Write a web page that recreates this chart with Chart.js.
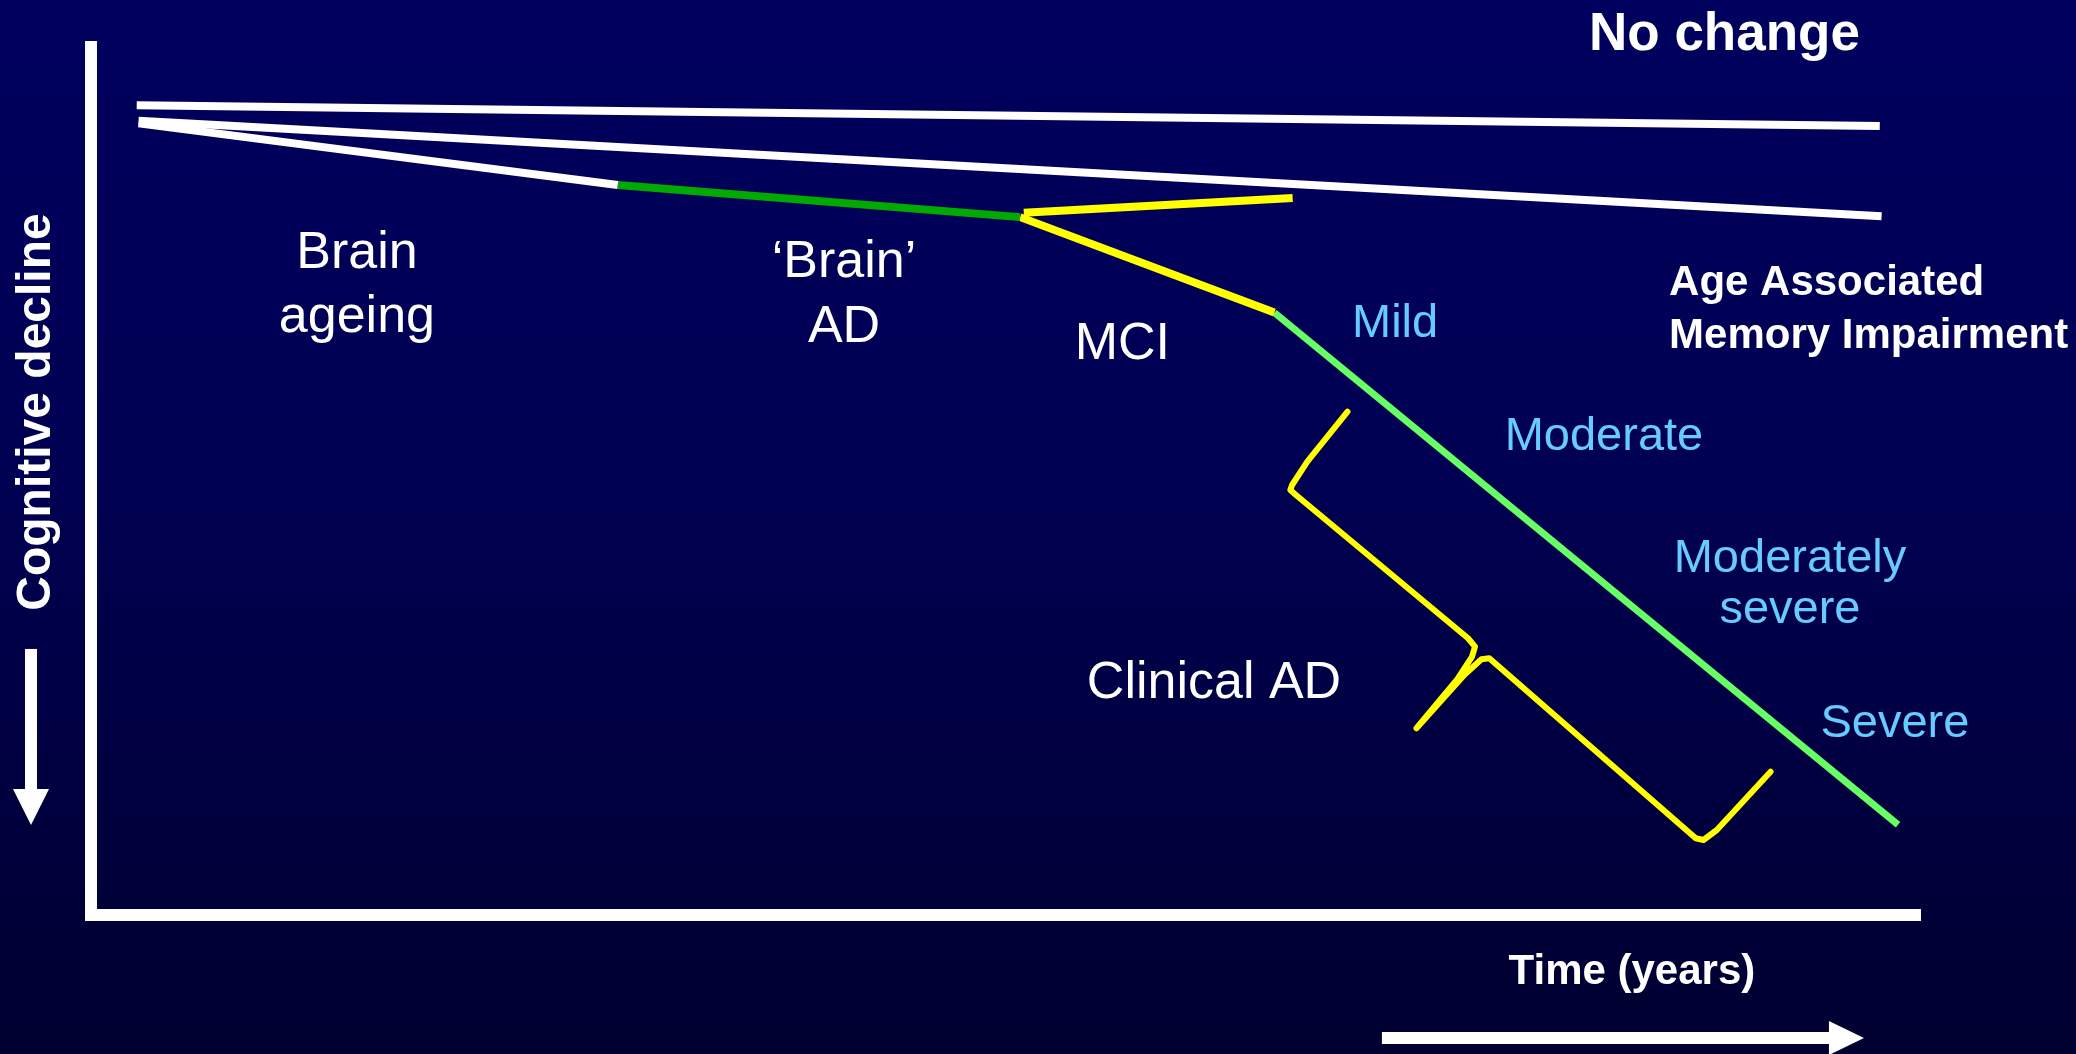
<!DOCTYPE html>
<html>
<head>
<meta charset="utf-8">
<title>Cognitive decline over time</title>
<script src="https://cdn.jsdelivr.net/npm/chart.js@4/dist/chart.umd.min.js"></script>
<style>
  html, body { margin: 0; padding: 0; background: #000040; overflow: hidden; }
  canvas { display: block; }
</style>
</head>
<body>
<canvas id="chart" width="2076" height="1054"></canvas>
<script>
// ---- Trajectories (time on x, cognitive level on y; 0–100 arbitrary units) ----
const timeNoChange   = [2.5, 97.8];
const cogNoChange    = [93.3, 90.9];

const timeAAMI       = [2.6, 97.9];
const cogAAMI        = [91.5, 80.5];

const timeAgeing     = [2.6, 28.8];
const cogAgeing      = [91.2, 84.1];

const timeBrainAD    = [28.8, 50.8];
const cogBrainAD     = [84.1, 80.4];

const timeMCIStable  = [51.0, 65.7];
const cogMCIStable   = [80.9, 82.6];

const timeMCI        = [50.8, 64.7];
const cogMCI         = [80.4, 69.4];

const timeClinical   = [64.7, 98.8];
const cogClinical    = [69.4, 10.4];

// curly brace spanning the clinical AD stage
const timeBrace = [68.70, 66.50, 65.67, 65.57, 65.88, 75.29, 75.67, 75.51, 74.67, 72.47,
                   75.08, 76.02, 76.45, 87.74, 88.16, 88.89, 91.83];
const cogBrace  = [57.98, 52.22, 49.54, 48.96, 48.39, 31.88, 30.91, 29.76, 27.07, 21.51,
                   27.65, 29.46, 29.57, 8.84, 8.64, 9.79, 16.51];

// ---- Text ----
const stageLabels    = ['Brain\nageing', '\u2018Brain\u2019\nAD', 'MCI', 'Clinical AD'];
const severityLabels = ['Mild', 'Moderate', 'Moderately\nsevere', 'Severe'];
const outcomeLabels  = ['No change', 'Age Associated\nMemory Impairment'];
const xTitle = 'Time (years)';
const yTitle = 'Cognitive decline';

function pts(xs, ys) { return xs.map((x, i) => ({ x, y: ys[i] })); }

const FONT = '"Liberation Sans", Arial, Helvetica, sans-serif';
const WHITE = '#ffffff';
const BLUE = '#66ccff';

// anchor points (in axis units) and styling for each text block
const textBlocks = [
  { text: stageLabels[0], x: 14.54, y: 74.54, size: 52, lh: 64, color: WHITE, align: 'center' },
  { text: stageLabels[1], x: 41.17, y: 73.50, size: 52, lh: 65, color: WHITE, align: 'center' },
  { text: stageLabels[2], x: 56.39, y: 64.06, size: 52, lh: 64, color: WHITE, align: 'center' },
  { text: stageLabels[3], x: 61.40, y: 25.00, size: 52, lh: 64, color: WHITE, align: 'center' },
  { text: severityLabels[0], x: 71.30, y: 66.59, size: 47, lh: 51, color: BLUE, align: 'center' },
  { text: severityLabels[1], x: 82.72, y: 53.57, size: 47, lh: 51, color: BLUE, align: 'center' },
  { text: severityLabels[2], x: 92.89, y: 39.52, size: 47, lh: 51, color: BLUE, align: 'center' },
  { text: severityLabels[3], x: 98.63, y: 20.51, size: 47, lh: 51, color: BLUE, align: 'center' },
  { text: outcomeLabels[0], x: 89.31, y: 99.65, size: 53, lh: 60, color: WHITE, align: 'center', bold: true },
  { text: outcomeLabels[1], x: 86.28, y: 71.43, size: 42, lh: 53, color: WHITE, align: 'left', bold: true },
  { text: xTitle, x: 84.25, y: -7.95, size: 42, lh: 50, color: WHITE, align: 'center', bold: true }
];

// gradient backdrop
const backdrop = {
  id: 'backdrop',
  beforeDraw(chart) {
    const { ctx, width, height } = chart;
    const g = ctx.createLinearGradient(0, 0, 0, height);
    g.addColorStop(0, '#00005e');
    g.addColorStop(0.45, '#000052');
    g.addColorStop(1, '#000030');
    ctx.save();
    ctx.fillStyle = g;
    ctx.fillRect(0, 0, width, height);
    ctx.restore();
  }
};

// labels, axis titles and direction arrows
const annotations = {
  id: 'annotations',
  afterDraw(chart) {
    const { ctx } = chart;
    const sx = chart.scales.x, sy = chart.scales.y;
    const px = v => sx.getPixelForValue(v);
    const py = v => sy.getPixelForValue(v);
    ctx.save();
    ctx.textBaseline = 'alphabetic';
    textBlocks.forEach(b => {
      ctx.font = (b.bold ? 'bold ' : '') + b.size + 'px ' + FONT;
      ctx.fillStyle = b.color;
      ctx.textAlign = b.align;
      b.text.split('\n').forEach((line, i) => {
        ctx.fillText(line, px(b.x), py(b.y) + i * b.lh);
      });
    });

    // rotated y title
    ctx.save();
    ctx.translate(px(-2.24), py(57.95));
    ctx.rotate(-Math.PI / 2);
    ctx.font = 'bold 48px ' + FONT;
    ctx.textAlign = 'center';
    ctx.fillStyle = WHITE;
    ctx.fillText(yTitle, 0, 0);
    ctx.restore();

    ctx.fillStyle = WHITE;
    // downward arrow beside the y title
    const ax = px(-3.28), aTop = py(30.65), aBase = py(14.52), aTip = py(10.37);
    ctx.fillRect(ax - 6, aTop, 12, aBase - aTop + 1);
    ctx.beginPath();
    ctx.moveTo(ax - 18, aBase);
    ctx.lineTo(ax + 18, aBase);
    ctx.lineTo(ax, aTip);
    ctx.closePath();
    ctx.fill();

    // rightward arrow under the x title
    const ay = py(-14.17), aL = px(70.58), aR = px(95.02), aT = px(96.94);
    ctx.fillRect(aL, ay - 6, aR - aL + 1, 12);
    ctx.beginPath();
    ctx.moveTo(aR, ay - 17);
    ctx.lineTo(aR, ay + 17);
    ctx.lineTo(aT, ay);
    ctx.closePath();
    ctx.fill();
    ctx.restore();
  }
};

function series(label, xs, ys, color, width, extra) {
  return Object.assign({
    label,
    data: pts(xs, ys),
    borderColor: color,
    borderWidth: width,
    pointRadius: 0,
    tension: 0,
    fill: false,
    borderCapStyle: 'butt'
  }, extra || {});
}

new Chart(document.getElementById('chart'), {
  type: 'line',
  data: {
    datasets: [
      series('No change', timeNoChange, cogNoChange, '#ffffff', 8),
      series('Age Associated Memory Impairment', timeAAMI, cogAAMI, '#ffffff', 8),
      series('Brain ageing', timeAgeing, cogAgeing, '#ffffff', 8),
      series("'Brain' AD", timeBrainAD, cogBrainAD, '#00aa00', 8),
      series('Stable MCI', timeMCIStable, cogMCIStable, '#ffff00', 8),
      series('MCI', timeMCI, cogMCI, '#ffff00', 8),
      series('Clinical AD', timeClinical, cogClinical, '#66ff66', 7),
      series('Clinical AD span', timeBrace, cogBrace, '#ffff00', 6,
             { borderJoinStyle: 'round', borderCapStyle: 'round' })
    ]
  },
  options: {
    responsive: false,
    devicePixelRatio: 1,
    animation: false,
    events: [],
    layout: { padding: { left: 91, top: 47, right: 156, bottom: 139 } },
    plugins: { legend: { display: false }, tooltip: { enabled: false } },
    scales: {
      x: {
        type: 'linear', min: 0, max: 100,
        grid: { display: false, drawTicks: false },
        ticks: { display: false },
        border: { display: true, color: '#ffffff', width: 12 }
      },
      y: {
        type: 'linear', min: 0, max: 100,
        grid: { display: false, drawTicks: false },
        ticks: { display: false },
        border: { display: true, color: '#ffffff', width: 12 }
      }
    }
  },
  plugins: [backdrop, annotations]
});
</script>
</body>
</html>
